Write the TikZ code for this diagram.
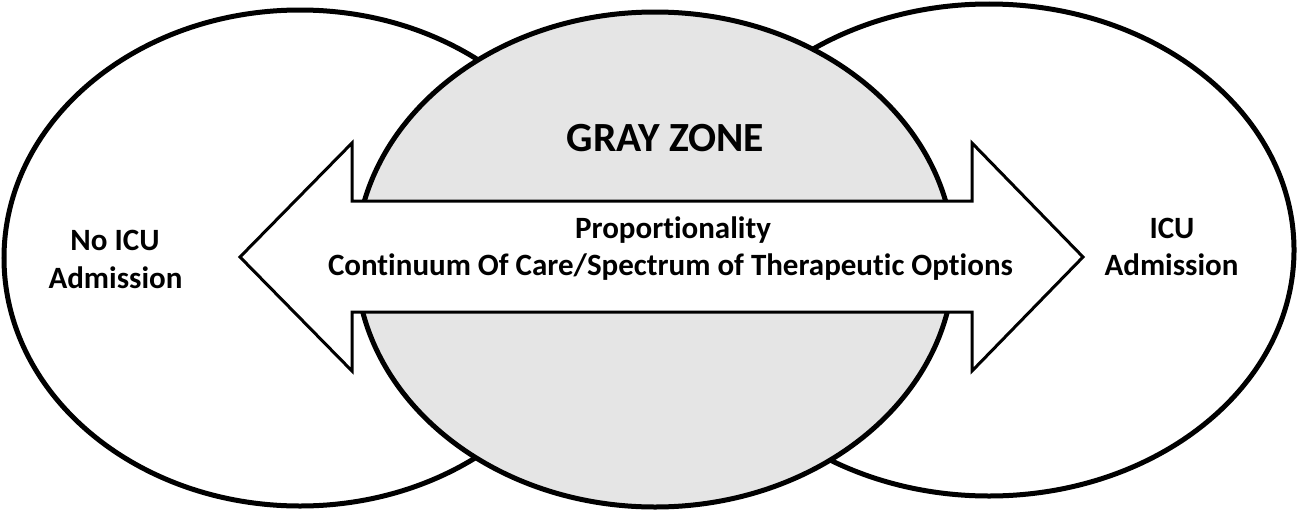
\documentclass[tikz,border=0pt]{standalone}
\usepackage{fontspec}
\setmainfont{Carlito}[Ligatures=NoCommon]
\definecolor{zonegray}{HTML}{E5E5E5}
\tikzset{
  ring/.style={draw=black, line width=5pt, fill=white},
  grayring/.style={draw=black, line width=5pt, fill=zonegray},
  bigarrow/.style={draw=black, line width=3pt, fill=white, line join=miter},
  lbl/.style={font=\bfseries\fontsize{31}{37}\selectfont, anchor=base, inner sep=0pt},
  title/.style={font=\bfseries\fontsize{41.5}{48}\selectfont, anchor=base, inner sep=0pt}
}
\begin{document}
\begin{tikzpicture}[x=1pt, y=-1pt]
\useasboundingbox (0,0) rectangle (1300,514);
\fill[white] (0,0) rectangle (1300,514);
% outer ellipses
\draw[ring] (300,258) ellipse [x radius=296, y radius=248];
\draw[ring] (989,250) ellipse [x radius=305, y radius=246];
% gray zone
\draw[grayring] (655,259.5) ellipse [x radius=299, y radius=247.5];
% double arrow
\draw[bigarrow] (240,257) -- (352,143) -- (352,201) -- (972,201) -- (972,143)
  -- (1083,257) -- (972,371) -- (972,312) -- (352,312) -- (352,371) -- cycle;
% texts
\node[title] (gz) at (665.5,151) {GRAY ZONE};
\node[lbl] (prop) at (673,238) {Proportionality};
\node[lbl] (cont) at (670.5,275) {Continuum Of Care/Spectrum of Therapeutic Options};
\node[lbl] (noicu1) at (115,250) {No ICU};
\node[lbl] (noicu2) at (115.5,288) {Admission};
\node[lbl] (icu1) at (1172,238) {ICU};
\node[lbl] (icu2) at (1171.5,275) {Admission};
\end{tikzpicture}
\end{document}
